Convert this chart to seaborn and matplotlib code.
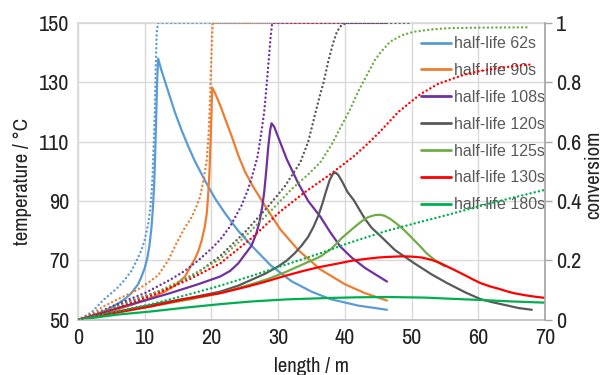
import matplotlib
matplotlib.use('Agg')
import matplotlib.pyplot as plt
import pandas as pd
import seaborn as sns

# series
labels = ['half-life 62s', 'half-life 90s', 'half-life 108s', 'half-life 120s',
          'half-life 125s', 'half-life 130s', 'half-life 180s']
colors = ['#5B9BD5', '#ED7D31', '#7030A0', '#595959', '#70AD47', '#FF0000', '#00B050']

# temperature profiles (length / m, temperature / C)
len_62 = [0, 2, 4, 6, 7, 8, 9, 9.5, 10, 10.4, 10.7, 11.0, 11.2, 11.4, 11.55, 11.7, 11.85, 12.0,
          12.5, 13, 13.5, 14, 14.5, 15.5, 16.5, 17.5, 19, 20.5, 22, 24, 26, 28.8, 32, 35, 37.8, 42, 46.3]
temp_62 = [50, 51.3, 53, 55.5, 57, 59, 62, 64.5, 67.5, 71, 75, 81, 87, 95, 105, 117, 130, 138,
           134, 130.5, 127, 123.5, 120, 114, 108.5, 103.5, 97, 91, 86, 80, 75, 68.5, 63, 59.5, 57, 54.8, 53.4]

len_90 = [0, 4, 8, 11, 13, 14.5, 16, 17, 17.5, 18, 18.5, 19, 19.3, 19.5, 19.7, 19.85, 20.0, 20.1,
          20.5, 21.3, 22, 23, 24, 25, 26.2, 28, 30.3, 33, 36.3, 40, 43, 46.3]
temp_90 = [50, 52.3, 55, 57.5, 59.5, 61.5, 64.5, 68.5, 70.5, 73, 76.5, 81.4, 86, 92, 100, 110, 120, 128.2,
           126.5, 122.3, 118, 112, 105.5, 100, 95, 88.5, 80.5, 73.5, 67, 62, 59, 56.5]

len_108 = [0, 6.3, 10, 13.8, 18, 21.3, 22.8, 24, 25, 26, 26.7, 27.2, 27.6, 27.9, 28.2, 28.5, 28.8, 29.0,
           29.4, 30, 31.3, 33, 34.5, 36.3, 37.8, 39.3, 41, 43, 46.3]
temp_108 = [50, 54.2, 56.5, 59, 62, 64.6, 66.5, 69, 72, 75, 79, 83, 88, 93, 100, 108, 114, 116.2,
            115, 111.5, 104, 96, 90, 84.8, 79.5, 74.7, 71, 67.5, 62.9]

len_120 = [0, 6, 12, 17, 21.3, 24, 26, 28, 30, 31.3, 32.5, 33.5, 34.5, 35.3, 36, 36.6, 37.2, 37.7,
           38.2, 38.6, 39, 39.6, 40.4, 41.3, 42.2, 43, 44, 45.3, 47.5, 50.3, 53, 55.3, 58, 60.3, 62,
           64, 66, 68]
temp_120 = [50, 52.8, 55.5, 57.5, 59.5, 61.5, 63.5, 65.5, 68, 70, 72.5, 75, 78, 81.4, 85, 89, 93.5, 97,
            99.2, 99.6, 98.8, 96.5, 93, 90.4, 87, 84, 81, 78.3, 73.5, 69.2, 65.3, 62.4, 59.3, 57, 56,
            55, 54, 53.4]

len_125 = [0, 6, 12, 17, 21.3, 24, 26, 28.5, 31, 33.5, 36.3, 38, 39.5, 41.3, 42.5, 43.5, 44.5, 45.3,
           46, 46.8, 47.5, 48.3, 49.3, 50.3, 51.3, 52.2, 53, 54, 55]
temp_125 = [50, 52.5, 55, 57, 59, 60.7, 62, 63.8, 66, 68.5, 71.3, 74, 77.5, 81, 83.2, 84.6, 85.3, 85.4,
            85, 84, 82.8, 81.4, 79.3, 77, 74.7, 72.5, 71, 69.3, 68]

len_130 = [0, 5, 10.8, 16, 21.3, 25, 28, 31, 33.8, 36, 39, 41, 43, 45, 46.5, 48.5, 50, 51.5, 53, 54.2,
           55.3, 56.5, 58, 59.2, 60.3, 61.7, 63, 64.3, 65.3, 67, 68.5, 70]
temp_130 = [50, 52.2, 54.5, 57, 59, 61, 62.8, 64.8, 66.5, 67.7, 69, 69.9, 70.5, 71, 71.2, 71.4, 71.3,
            71, 70.2, 69.2, 68, 66.7, 65, 63.6, 62.4, 61.3, 60.5, 59.6, 59, 58.3, 57.8, 57.4]

len_180 = [0, 3, 6, 10.8, 16, 21.3, 26, 31.3, 38, 42, 46.3, 52, 56, 60.3, 65, 70]
temp_180 = [50, 50.9, 51.8, 52.8, 54.1, 55.3, 56.2, 56.9, 57.4, 57.6, 57.7, 57.5, 57.1, 56.7, 56.2, 55.8]

# conversion profiles (length / m, conversion)
clen_62 = [0, 2, 3.8, 5, 6, 7, 8, 8.8, 9.5, 10, 10.5, 10.8, 11.0, 11.2, 11.35, 11.5, 11.6, 11.7,
           11.8, 12.0, 46.3]
conv_62 = [0, 0.025, 0.067, 0.09, 0.11, 0.135, 0.165, 0.20, 0.235, 0.27, 0.32, 0.37, 0.42, 0.5, 0.6,
           0.7, 0.8, 0.9, 0.97, 1.0, 1.0]

clen_90 = [0, 2, 3.8, 6, 8.8, 10.5, 12, 13.5, 14.8, 16, 17, 17.7, 18.3, 18.8, 19.3, 19.55, 19.75,
           19.9, 20.05, 20.2, 46.3]
conv_90 = [0, 0.02, 0.045, 0.07, 0.10, 0.125, 0.15, 0.2, 0.26, 0.31, 0.345, 0.38, 0.415, 0.47, 0.54,
           0.62, 0.72, 0.83, 0.93, 1.0, 1.0]

clen_108 = [0, 3, 6.3, 10, 13.8, 16, 18, 20, 21.3, 22.8, 24.5, 25.5, 26.3, 26.9, 27.4, 27.9, 28.3,
            28.6, 28.85, 29.1, 46.3]
conv_108 = [0, 0.025, 0.057, 0.09, 0.135, 0.165, 0.2, 0.24, 0.27, 0.315, 0.385, 0.44, 0.50, 0.55, 0.62,
            0.70, 0.80, 0.88, 0.95, 1.0, 1.0]

clen_120 = [0, 3, 6, 10, 13.8, 18, 21.3, 25, 28.8, 31, 33.3, 34.5, 35.5, 36.3, 36.8, 37.5, 38.2,
            38.8, 39.4, 40.2, 50]
conv_120 = [0, 0.022, 0.05, 0.08, 0.11, 0.16, 0.215, 0.295, 0.39, 0.45, 0.53, 0.6, 0.69, 0.76, 0.80,
            0.87, 0.93, 0.97, 0.99, 1.0, 1.0]

clen_125 = [0, 6, 12, 17, 21.3, 25, 28.8, 32, 34.5, 36.3, 38, 39.5, 40.8, 42, 43.3, 44.5, 45.5, 46.8,
            48.5, 50.3, 53, 55.3, 60, 67.5]
conv_125 = [0, 0.045, 0.095, 0.15, 0.205, 0.28, 0.365, 0.44, 0.49, 0.53, 0.59, 0.655, 0.71, 0.77, 0.825,
            0.875, 0.905, 0.937, 0.958, 0.97, 0.978, 0.982, 0.984, 0.985]

clen_130 = [0, 6, 12, 17, 21.3, 26, 30.3, 34, 37.8, 41.3, 43.5, 45.3, 48, 51.3, 54, 57.8, 60, 62.8,
            65.5, 68]
conv_130 = [0, 0.04, 0.09, 0.14, 0.19, 0.275, 0.365, 0.43, 0.49, 0.55, 0.595, 0.635, 0.70, 0.76, 0.795,
            0.825, 0.837, 0.847, 0.855, 0.86]

clen_180 = [0, 5, 10.8, 16, 21.3, 26, 31.3, 36, 41, 46.3, 51, 55.3, 62, 70]
conv_180 = [0, 0.025, 0.052, 0.082, 0.115, 0.148, 0.187, 0.222, 0.262, 0.30, 0.328, 0.353, 0.394, 0.438]

temp_series = [(len_62, temp_62), (len_90, temp_90), (len_108, temp_108), (len_120, temp_120),
               (len_125, temp_125), (len_130, temp_130), (len_180, temp_180)]
conv_series = [(clen_62, conv_62), (clen_90, conv_90), (clen_108, conv_108), (clen_120, conv_120),
               (clen_125, conv_125), (clen_130, conv_130), (clen_180, conv_180)]


def to_long(series):
    frames = []
    for lab, (xs, ys) in zip(labels, series):
        frames.append(pd.DataFrame({'length': xs, 'value': ys, 'series': lab}))
    return pd.concat(frames, ignore_index=True)


df_temp = to_long(temp_series)
df_conv = to_long(conv_series)
palette = dict(zip(labels, colors))

sns.set_theme(style='white')
plt.rcParams['font.family'] = ['Archivo Narrow', 'Liberation Sans', 'DejaVu Sans']

fig, ax = plt.subplots(figsize=(6.05, 3.75), dpi=100)
fig.subplots_adjust(left=0.129, right=0.901, top=0.939, bottom=0.147)
ax2 = ax.twinx()

# solid = temperature, dotted = conversion
sns.lineplot(data=df_temp, x='length', y='value', hue='series', palette=palette,
             sort=False, estimator=None, lw=1.6, ax=ax)
sns.lineplot(data=df_conv, x='length', y='value', hue='series', palette=palette,
             sort=False, estimator=None, lw=1.8, legend=False, ax=ax2)
for line in ax2.lines:
    line.set_linestyle((0, (0.01, 1.7)))
    line.set_dash_capstyle('round')

# axes
ax.set_xlim(0, 70)
ax.set_ylim(50, 150)
ax.set_xticks(range(0, 71, 10))
ax.set_yticks(range(50, 151, 20))
ax2.set_ylim(0, 1)
ax2.set_yticks([0, 0.2, 0.4, 0.6, 0.8, 1])
ax2.set_yticklabels(['0', '0.2', '0.4', '0.6', '0.8', '1'])

ax.grid(True, color='#D9D9D9', lw=1)
ax.set_axisbelow(True)
ax.tick_params(axis='both', length=0, pad=6, labelsize=16, labelcolor='#222222')
ax2.tick_params(axis='y', length=5, width=1, color='#A6A6A6', pad=3, labelsize=16,
                labelcolor='#222222')

for side in ['top', 'left']:
    ax.spines[side].set_color('#D9D9D9')
ax.spines['bottom'].set_color('#BFBFBF')
ax.spines['right'].set_visible(False)
for side in ['top', 'left', 'bottom']:
    ax2.spines[side].set_visible(False)
ax2.spines['right'].set_color('#A6A6A6')

ax.set_xlabel('length / m', fontsize=15, color='#222222')
ax.set_ylabel('temperature / °C', fontsize=15, color='#222222')
ax2.set_ylabel('conversiom', fontsize=15, color='#222222')
ax.xaxis.set_label_coords(0.5, -0.125)
ax.yaxis.set_label_coords(-0.099, 0.465)
ax2.yaxis.set_label_coords(1.083, 0.488)

sns.move_legend(ax, 'upper left', bbox_to_anchor=(0.734, 0.955), frameon=False, title=None,
                labelcolor='#595959', handlelength=1.9, handletextpad=0.15,
                labelspacing=0.74, borderaxespad=0, borderpad=0,
                prop={'family': ['Liberation Sans', 'DejaVu Sans'], 'size': 11.5})
for h in ax.get_legend().legend_handles:
    h.set_linewidth(2)

fig.savefig('out.png', dpi=100)
